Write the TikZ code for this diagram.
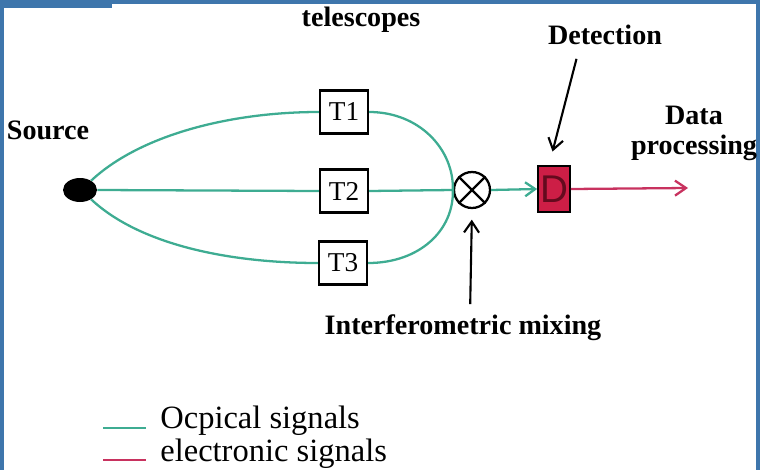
\documentclass[tikz,border=0pt]{standalone}
\usepackage{fontspec}
\setmainfont{Liberation Serif}
\setsansfont{Liberation Sans}
\usetikzlibrary{arrows.meta,shapes.geometric}

\definecolor{optic}{RGB}{62,172,146}
\definecolor{elec}{RGB}{200,50,95}
\definecolor{detred}{RGB}{205,30,70}
\definecolor{frame}{RGB}{62,118,172}

\begin{document}
\begin{tikzpicture}[
  x=0.02cm, y=-0.02cm,
  label/.style={font=\bfseries\fontsize{16}{17}\selectfont, align=center, inner sep=0pt},
  legend/.style={font=\fontsize{18.5}{20}\selectfont, anchor=west, inner sep=0pt},
  tele/.style={rectangle, draw, line width=1.2pt, minimum width=0.96cm, minimum height=0.86cm,
    inner sep=0pt, font=\fontsize{15.5}{16}\selectfont},
  optical/.style={draw=optic, line width=1.3pt},
  electronic/.style={draw=elec, line width=1.3pt},
  pointer/.style={draw=black, line width=1.2pt, -{Straight Barb[length=0.22cm,width=0.3cm]}}
]
\useasboundingbox (0,0) rectangle (760,470);

% window frame
\fill[frame] (0,0) rectangle (760,4);
\fill[frame] (0,0) rectangle (112,8);
\fill[frame] (0,0) rectangle (4,470);
\fill[frame] (756,0) rectangle (760,470);

% source, telescopes, mixer, detector
\node[ellipse, fill=black, minimum width=0.68cm, minimum height=0.48cm, inner sep=0pt] (src) at (80,190) {};
\node[tele] (t1) at (344,112) {T1};
\node[tele] (t2) at (344,191) {T2};
\node[tele] (t3) at (343,263) {T3};
\node[circle, draw, line width=1.3pt, minimum size=0.72cm, inner sep=0pt] (mix) at (472,190) {};
\draw[line width=1.3pt] (mix.north west) -- (mix.south east) (mix.north east) -- (mix.south west);
\node[rectangle, draw, fill=detred, line width=1pt, minimum width=0.64cm, minimum height=0.92cm,
  inner sep=0pt, font=\sffamily\fontsize{22}{22}\selectfont, text={rgb,255:red,100;green,10;blue,30}] (det) at (554,189) {D};
\coordinate (out) at (688,188);

% labels
\node[label] (srclbl) at (48,130) {Source};
\node[label] (telelbl) at (361,20) {telescopes};
\node[label] (detlbl) at (605,35) {Detection};
\node[label] (datalbl) at (694,133) {Data\\processing};
\node[label] (mixlbl) at (463,328) {Interferometric mixing};

% optical paths
\draw[optical] (src.40) .. controls (140,135) and (230,112) .. (t1.west);
\draw[optical] (t1.east) .. controls (420,112) and (454,150) .. (mix.west);
\draw[optical] (src.east) -- (t2.west);
\draw[optical] (t2.east) -- (mix.west);
\draw[optical] (src.-40) .. controls (140,245) and (230,263) .. (t3.west);
\draw[optical] (t3.east) .. controls (420,263) and (454,230) .. (mix.west);
\draw[optical, -{Straight Barb[length=0.2cm,width=0.28cm]}] (mix.east) -- (det.west);

% electronic path
\draw[electronic, -{Straight Barb[length=0.22cm,width=0.3cm]}] (det.east) -- (out);

% pointers
\draw[pointer, shorten <=8pt, shorten >=8pt] ([xshift=-0.5cm]detlbl.south) -- ([xshift=-0.1cm]det.north);
\draw[pointer, shorten <=6pt, shorten >=6pt] ([xshift=0.14cm]mixlbl.north) -- (mix.south);

% legend
\draw[optical] (103,428) -- (146,428);
\node[legend] (optlbl) at (160,421) {Ocpical signals};
\draw[electronic] (103,460) -- (146,460);
\node[legend] (eleclbl) at (160,454) {electronic signals};
\end{tikzpicture}
\end{document}
